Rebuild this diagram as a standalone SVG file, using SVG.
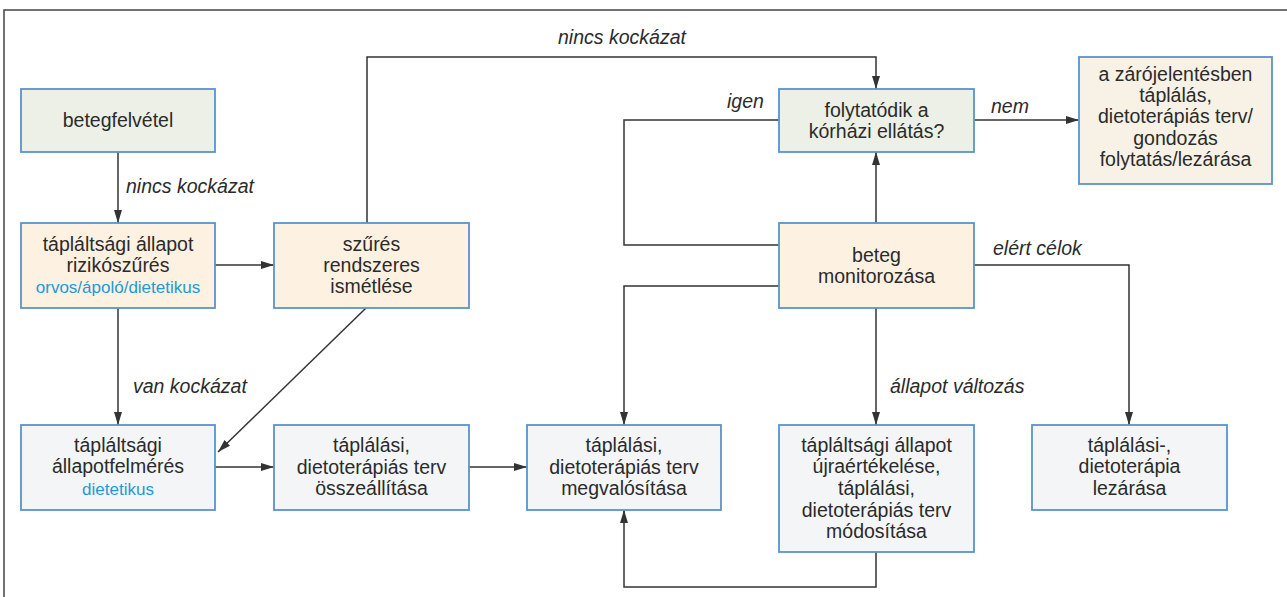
<svg xmlns="http://www.w3.org/2000/svg" width="1287" height="597" viewBox="0 0 1287 597">
<defs>
<marker id="ah" markerWidth="13" markerHeight="8" refX="13" refY="4" orient="auto" markerUnits="userSpaceOnUse">
<path d="M0,0 L13,4 L0,8 Z" fill="#333"/>
</marker>
<style>
.box{stroke:#5a93cb;stroke-width:1.8}
.g{fill:#edf0e6}
.p{fill:#fdf1e1}
.b{fill:#f3f5f6}
.z{fill:#f7f1e6}
.t{font-family:"Liberation Sans",Arial,sans-serif;font-size:19.5px;fill:#2b2b2b;text-anchor:middle}
.s{font-family:"Liberation Sans",Arial,sans-serif;font-size:17px;fill:#1e9ad8;text-anchor:middle}
.l{font-family:"Liberation Sans",Arial,sans-serif;font-size:19.5px;font-style:italic;fill:#2b2b2b}
.c{fill:none;stroke:#333;stroke-width:1.5}
.f{fill:none;stroke:#444;stroke-width:1.5}
</style>
</defs>
<rect width="1287" height="597" fill="#fff"/>
<path class="f" d="M4,597 V10 H1287"/>

<g id="connectors">
<path class="c" d="M118,152 V223" marker-end="url(#ah)"/>
<path class="c" d="M215,265 H274" marker-end="url(#ah)"/>
<path class="c" d="M118,308 V425" marker-end="url(#ah)"/>
<path class="c" d="M366,308 L218,452" marker-end="url(#ah)"/>
<path class="c" d="M367,223 V57 H876 V89" marker-end="url(#ah)"/>
<path class="c" d="M215,467 H274" marker-end="url(#ah)"/>
<path class="c" d="M469,467 H527" marker-end="url(#ah)"/>
<path class="c" d="M876,223 V152" marker-end="url(#ah)"/>
<path class="c" d="M779,120 H624 V245 H779"/>
<path class="c" d="M779,286 H624 V425" marker-end="url(#ah)"/>
<path class="c" d="M876,308 V425" marker-end="url(#ah)"/>
<path class="c" d="M974,265 H1129 V425" marker-end="url(#ah)"/>
<path class="c" d="M974,120 H1079" marker-end="url(#ah)"/>
<path class="c" d="M876,552 V587 H624 V510" marker-end="url(#ah)"/>
<text class="l" x="126" y="193">nincs kockázat</text>
<text class="l" x="133" y="393">van kockázat</text>
<text class="l" x="558" y="44">nincs kockázat</text>
<text class="l" x="727" y="108">igen</text>
<text class="l" x="991" y="113">nem</text>
<text class="l" x="993" y="255">elért célok</text>
<text class="l" x="890" y="393">állapot változás</text>
</g>

<g id="betegfelvetel">
<rect class="box g" x="21" y="89" width="194" height="63"/>
<text class="t" x="118" y="127">betegfelvétel</text>
</g>
<g id="rizikoszures">
<rect class="box p" x="21" y="223" width="194" height="85"/>
<text class="t" x="118" y="251">tápláltsági állapot</text>
<text class="t" x="118" y="272">rizikószűrés</text>
<text class="s" x="118" y="293">orvos/ápoló/dietetikus</text>
</g>
<g id="szures">
<rect class="box p" x="274" y="223" width="195" height="85"/>
<text class="t" x="371.5" y="251">szűrés</text>
<text class="t" x="371.5" y="272">rendszeres</text>
<text class="t" x="371.5" y="293">ismétlése</text>
</g>
<g id="allapotfelmeres">
<rect class="box b" x="21" y="425" width="194" height="85"/>
<text class="t" x="118" y="452">tápláltsági</text>
<text class="t" x="118" y="473">állapotfelmérés</text>
<text class="s" x="118" y="495">dietetikus</text>
</g>
<g id="osszeallitas">
<rect class="box b" x="274" y="425" width="195" height="85"/>
<text class="t" x="371.5" y="452">táplálási,</text>
<text class="t" x="371.5" y="474">dietoterápiás terv</text>
<text class="t" x="371.5" y="495">összeállítása</text>
</g>
<g id="megvalositas">
<rect class="box b" x="527" y="425" width="194" height="85"/>
<text class="t" x="624" y="452">táplálási,</text>
<text class="t" x="624" y="474">dietoterápiás terv</text>
<text class="t" x="624" y="495">megvalósítása</text>
</g>
<g id="ujraertekeles">
<rect class="box b" x="779" y="425" width="195" height="127"/>
<text class="t" x="876.5" y="452">tápláltsági állapot</text>
<text class="t" x="876.5" y="473">újraértékelése,</text>
<text class="t" x="876.5" y="495">táplálási,</text>
<text class="t" x="876.5" y="517">dietoterápiás terv</text>
<text class="t" x="876.5" y="538">módosítása</text>
</g>
<g id="lezaras">
<rect class="box b" x="1032" y="425" width="195" height="85"/>
<text class="t" x="1129.5" y="452">táplálási-,</text>
<text class="t" x="1129.5" y="473">dietoterápia</text>
<text class="t" x="1129.5" y="495">lezárása</text>
</g>
<g id="folytatodik">
<rect class="box g" x="779" y="89" width="195" height="63"/>
<text class="t" x="876.5" y="117">folytatódik a</text>
<text class="t" x="876.5" y="138">kórházi ellátás?</text>
</g>
<g id="monitorozas">
<rect class="box p" x="779" y="223" width="195" height="85"/>
<text class="t" x="876.5" y="262">beteg</text>
<text class="t" x="876.5" y="283">monitorozása</text>
</g>
<g id="zarojelentes">
<rect class="box z" x="1079" y="57" width="193" height="127"/>
<text class="t" x="1175.5" y="81">a zárójelentésben</text>
<text class="t" x="1175.5" y="102">táplálás,</text>
<text class="t" x="1175.5" y="123">dietoterápiás terv/</text>
<text class="t" x="1175.5" y="145">gondozás</text>
<text class="t" x="1175.5" y="166">folytatás/lezárása</text>
</g>
</svg>
